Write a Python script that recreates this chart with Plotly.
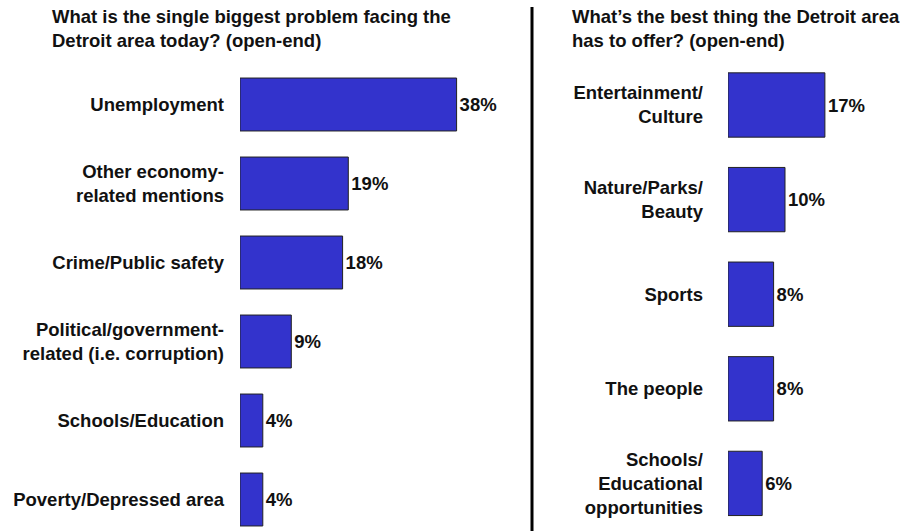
import plotly.graph_objects as go

# Left panel: biggest problem facing the Detroit area
problem_labels = [
    "Unemployment",
    "Other economy-<br>related mentions",
    "Crime/Public safety",
    "Political/government-<br>related (i.e. corruption)",
    "Schools/Education",
    "Poverty/Depressed area",
]
problem_values = [38, 19, 18, 9, 4, 4]

# Right panel: best thing the Detroit area has to offer
offer_labels = [
    "Entertainment/<br>Culture",
    "Nature/Parks/<br>Beauty",
    "Sports",
    "The people",
    "Schools/<br>Educational<br>opportunities",
]
offer_values = [17, 10, 8, 8, 6]

title_left = "What is the single biggest problem facing the<br>Detroit area today? (open-end)"
title_right = "What\u2019s the best thing the Detroit area<br>has to offer? (open-end)"

W, H = 904, 531
FONT = "Liberation Sans, Arial, sans-serif"
BAR = "#3333CC"
INK = "#111111"
FS = 18.5

fig = go.Figure()

fig.add_trace(go.Bar(
    x=problem_values, y=list(range(len(problem_values))), orientation="h",
    xaxis="x", yaxis="y", width=0.67,
    marker=dict(color=BAR, line=dict(color="#222222", width=1)),
    text=[f"{v}%" for v in problem_values], textposition="outside",
    textfont=dict(family=FONT, size=FS, color=INK, weight="bold"),
    cliponaxis=False, hoverinfo="skip",
))
fig.add_trace(go.Bar(
    x=offer_values, y=list(range(len(offer_values))), orientation="h",
    xaxis="x2", yaxis="y2", width=0.68,
    marker=dict(color=BAR, line=dict(color="#222222", width=1)),
    text=[f"{v}%" for v in offer_values], textposition="outside",
    textfont=dict(family=FONT, size=FS, color=INK, weight="bold"),
    cliponaxis=False, hoverinfo="skip",
))

def px_x(p):
    return p / W

def px_y(p):
    return 1 - p / H

scale = 5.7  # pixels per percentage point
left_x0, right_x0 = 240, 728

fig.update_layout(
    width=W, height=H,
    margin=dict(l=0, r=0, t=0, b=0),
    paper_bgcolor="white", plot_bgcolor="white",
    showlegend=False,
    uniformtext=dict(mode=False),
    font=dict(family=FONT, size=FS, color=INK, weight="bold"),
    xaxis=dict(domain=[px_x(left_x0), px_x(left_x0 + scale * 40)], range=[0, 40],
               visible=False, fixedrange=True),
    xaxis2=dict(domain=[px_x(right_x0), px_x(right_x0 + scale * 30)], range=[0, 30],
                visible=False, fixedrange=True, anchor="y2"),
    yaxis=dict(domain=[0, px_y(65)], range=[(H - 104.5) / 79, -0.5],
               tickmode="array", tickvals=list(range(len(problem_labels))),
               ticktext=problem_labels, showgrid=False, zeroline=False,
               showline=False, ticks="", ticklabelstandoff=15,
               tickfont=dict(family=FONT, size=FS, color=INK, weight="bold"),
               anchor="x", fixedrange=True),
    yaxis2=dict(domain=[0, px_y(57.7)], range=[(H - 105) / 94.6, -0.5],
                tickmode="array", tickvals=list(range(len(offer_labels))),
                ticktext=offer_labels, showgrid=False, zeroline=False,
                showline=False, ticks="", ticklabelstandoff=24,
                tickfont=dict(family=FONT, size=FS, color=INK, weight="bold"),
                anchor="x2", fixedrange=True),
    shapes=[dict(type="line", xref="paper", yref="paper",
                 x0=px_x(532), x1=px_x(532), y0=0, y1=px_y(7),
                 line=dict(color="black", width=3))],
    annotations=[
        dict(text=title_left, xref="paper", yref="paper", x=px_x(50), y=px_y(4),
             xanchor="left", yanchor="top", align="left", showarrow=False,
             font=dict(family=FONT, size=FS, color=INK, weight="bold")),
        dict(text=title_right, xref="paper", yref="paper", x=px_x(570), y=px_y(4),
             xanchor="left", yanchor="top", align="left", showarrow=False,
             font=dict(family=FONT, size=FS, color=INK, weight="bold")),
    ],
)

fig.write_html("out.html", config={"displayModeBar": False})
